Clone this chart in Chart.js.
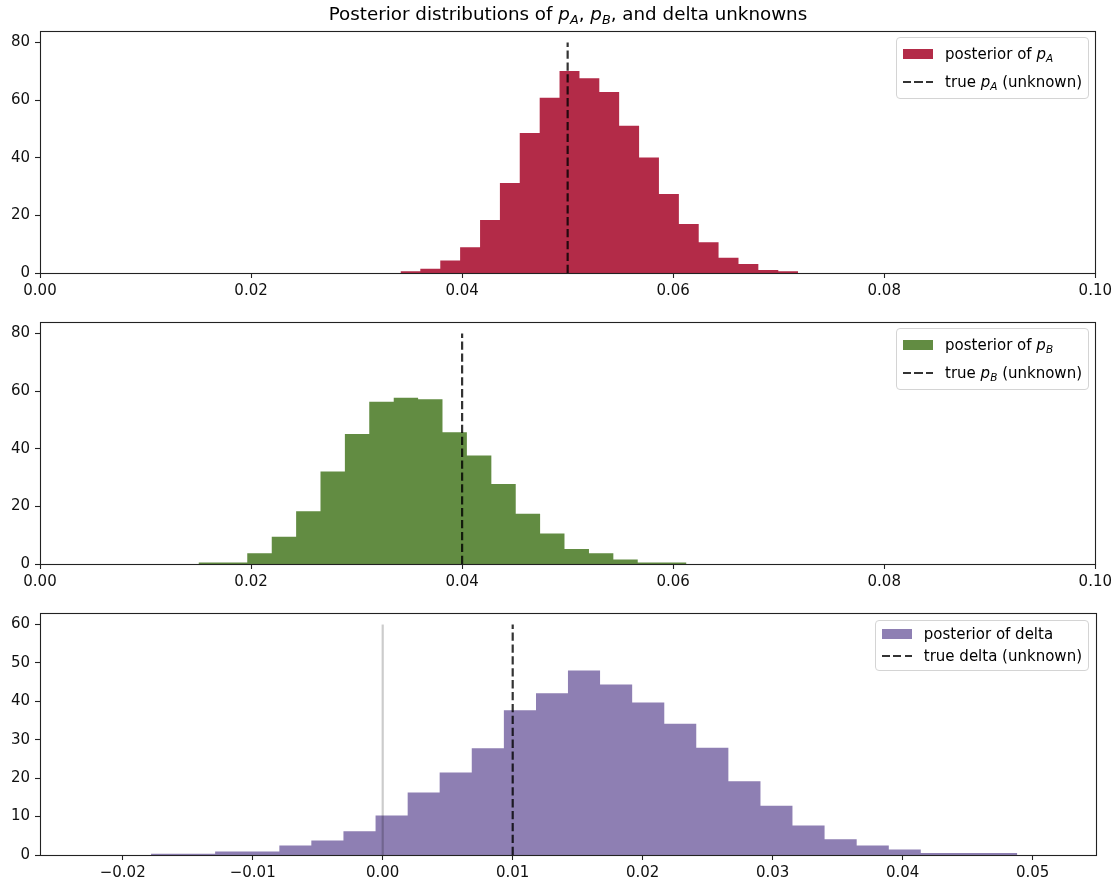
<!DOCTYPE html>
<html><head><meta charset="utf-8">
<script src="https://cdn.jsdelivr.net/npm/chart.js@4.4.0/dist/chart.umd.min.js"></script>
<style>
html,body{margin:0;padding:0;background:#fff;}
#wrap{position:relative;width:1116px;height:884px;overflow:hidden;font-family:"DejaVu Sans",sans-serif;color:#000;}
canvas{position:absolute;left:0;}
.title{position:absolute;left:40px;width:1056px;text-align:center;font-size:18.3px;line-height:22px;top:3px;white-space:nowrap;}
.legend{position:absolute;right:27px;background:rgba(255,255,255,0.8);border:1px solid #d4d4d4;border-radius:4px;padding:6px 6px 6px 6px;font-size:15px;}
.row{display:flex;align-items:center;white-space:nowrap;}
.patch{width:30px;height:10px;margin-right:12px;flex:none;}
.dash{width:30px;height:2px;margin-right:12px;flex:none;background:repeating-linear-gradient(to right, rgba(0,0,0,0.8) 0 8px, transparent 8px 11.5px);}
i{font-style:oblique;}
sub{font-size:70%;vertical-align:-0.3em;line-height:0;}
</style>
</head><body>
<div id="wrap">
  <canvas id="c1" width="1116" height="300" style="top:0px"></canvas>
  <canvas id="c2" width="1116" height="292" style="top:300px"></canvas>
  <canvas id="c3" width="1116" height="292" style="top:592px"></canvas>
  <div class="title">Posterior distributions of <i>p</i><sub><i>A</i></sub>, <i>p</i><sub><i>B</i></sub>, and delta unknowns</div>
  <div class="legend" style="top:37px">
    <div class="row" style="height:20px"><span class="patch" style="background:#B32B48"></span><span>posterior of <i>p</i><sub><i>A</i></sub></span></div>
    <div class="row" style="height:20px;margin-top:7.5px"><span class="dash"></span><span>true <i>p</i><sub><i>A</i></sub> (unknown)</span></div>
  </div>
  <div class="legend" style="top:328px">
    <div class="row" style="height:20px"><span class="patch" style="background:#628C42"></span><span>posterior of <i>p</i><sub><i>B</i></sub></span></div>
    <div class="row" style="height:20px;margin-top:7.5px"><span class="dash"></span><span>true <i>p</i><sub><i>B</i></sub> (unknown)</span></div>
  </div>
  <div class="legend" style="top:620px">
    <div class="row" style="height:14.5px"><span class="patch" style="background:#8E7FB3"></span><span>posterior of delta</span></div>
    <div class="row" style="height:14.5px;margin-top:7.5px"><span class="dash"></span><span>true delta (unknown)</span></div>
  </div>
</div>
<script>
// ---------- data ----------
const pA_edges = [0.03416, 0.03604, 0.03793, 0.03981, 0.04170, 0.04358, 0.04546, 0.04735, 0.04923, 0.05112,
                  0.05300, 0.05488, 0.05677, 0.05865, 0.06054, 0.06242, 0.06430, 0.06619, 0.06807, 0.06996, 0.07184];
const pA_density = [0.6, 1.5, 4.3, 8.9, 18.4, 31.2, 48.6, 60.8, 70.1, 67.6,
                    62.8, 51.1, 40.1, 27.4, 17.0, 10.7, 5.3, 3.1, 1.0, 0.6];

const pB_edges = [0.01502, 0.01733, 0.01964, 0.02196, 0.02427, 0.02658, 0.02889, 0.03120, 0.03352, 0.03583,
                  0.03814, 0.04045, 0.04277, 0.04508, 0.04739, 0.04970, 0.05202, 0.05433, 0.05664, 0.05895, 0.06126];
const pB_density = [0.5, 0.5, 3.7, 9.5, 18.3, 32.1, 45.1, 56.3, 57.7, 57.2,
                    45.7, 37.7, 27.8, 17.4, 10.6, 5.2, 3.7, 1.6, 0.5, 0.5];

const delta_edges = [-0.02276, -0.02029, -0.01782, -0.01536, -0.01289, -0.01042, -0.00795, -0.00549, -0.00302, -0.00055,
                     0.00192, 0.00438, 0.00685, 0.00932, 0.01179, 0.01425, 0.01672, 0.01919, 0.02166, 0.02412,
                     0.02659, 0.02906, 0.03152, 0.03399, 0.03646, 0.03893, 0.04139, 0.04386, 0.04633, 0.04880, 0.05126];
const delta_density = [0.0, 0.0, 0.35, 0.35, 0.9, 0.9, 2.5, 3.8, 6.2, 10.3,
                       16.3, 21.5, 27.8, 37.7, 42.1, 48.0, 44.4, 39.7, 34.2, 27.9,
                       19.2, 12.8, 7.7, 4.1, 2.5, 1.4, 0.5, 0.5, 0.5, 0.0];

const true_pA = 0.05, true_pB = 0.04, true_delta = 0.01;
const vlineTopAB = 80, vlineTopDelta = 60;

const xTicksAB = [0.00, 0.02, 0.04, 0.06, 0.08, 0.10];
const xTicksDelta = [-0.02, -0.01, 0.00, 0.01, 0.02, 0.03, 0.04, 0.05];
const yTicksAB = [0, 20, 40, 60, 80];
const yTicksDelta = [0, 10, 20, 30, 40, 50, 60];

// ---------- helpers ----------
function stepPoints(edges, dens) {
  const pts = [];
  for (let i = 0; i < dens.length; i++) {
    pts.push({x: edges[i], y: dens[i]});
    pts.push({x: edges[i + 1], y: dens[i]});
  }
  return pts;
}
function vline(x, top) { return [{x: x, y: 0}, {x: x, y: top}]; }
function fmtTick(v) {
  const r = Math.round(v * 100) / 100;
  if (r < 0) return '\u2212' + Math.abs(r).toFixed(2);
  return Math.abs(r).toFixed(2);
}

const framePlugin = {
  id: 'frame',
  afterDatasetsDraw(chart) {
    const {ctx, chartArea: a} = chart;
    ctx.save();
    ctx.strokeStyle = '#222';
    ctx.lineWidth = 1.1;
    ctx.strokeRect(Math.round(a.left) + 0.5, Math.round(a.top) + 0.5,
                   Math.round(a.right) - Math.round(a.left), Math.round(a.bottom) - Math.round(a.top));
    ctx.restore();
  }
};

Chart.defaults.font.family = '"DejaVu Sans", sans-serif';
Chart.defaults.font.size = 15;
Chart.defaults.color = '#111';

function makeChart(id, cfg) {
  const datasets = [
    {data: vline(cfg.truth, cfg.vtop), borderColor: 'rgba(0,0,0,0.8)', borderWidth: 2.2,
     borderDash: [8.3, 3.6], pointRadius: 0, fill: false, order: 1},
  ];
  if (cfg.zeroLine) {
    datasets.push({data: vline(0, cfg.vtop), borderColor: 'rgba(0,0,0,0.2)', borderWidth: 2.2,
                   pointRadius: 0, fill: false, order: 2});
  }
  datasets.push({data: stepPoints(cfg.edges, cfg.dens), borderColor: 'rgba(0,0,0,0)', backgroundColor: cfg.color,
                 borderWidth: 0.5, pointRadius: 0, fill: 'origin', tension: 0, order: 3});
  return new Chart(document.getElementById(id), {
    type: 'line',
    data: {datasets: datasets},
    options: {
      responsive: false, animation: false, devicePixelRatio: 1,
      layout: {padding: {top: cfg.padTop, right: 20, left: 0, bottom: 0}},
      plugins: {legend: {display: false}, tooltip: {enabled: false}, title: {display: false}},
      scales: {
        x: {
          type: 'linear', min: cfg.xmin, max: cfg.xmax,
          grid: {display: true, drawOnChartArea: false, drawTicks: true, tickLength: 5, tickColor: '#222', tickWidth: 1.1},
          border: {display: false},
          ticks: {padding: 4, callback: v => fmtTick(v), maxRotation: 0, autoSkip: false},
          afterBuildTicks: s => { s.ticks = cfg.xticks.map(v => ({value: v})); },
          afterFit: s => { s.height = cfg.xh; }
        },
        y: {
          type: 'linear', min: 0, max: cfg.ymax,
          grid: {display: true, drawOnChartArea: false, drawTicks: true, tickLength: 5, tickColor: '#222', tickWidth: 1.1},
          border: {display: false},
          ticks: {padding: 5, callback: v => String(v), autoSkip: false},
          afterBuildTicks: s => { s.ticks = cfg.yticks.map(v => ({value: v})); },
          afterFit: s => { s.width = 40; }
        }
      }
    },
    plugins: [framePlugin]
  });
}

makeChart('c1', {edges: pA_edges, dens: pA_density, color: '#B32B48', truth: true_pA, vtop: vlineTopAB,
  xmin: 0, xmax: 0.10, ymax: 84, xticks: xTicksAB, yticks: yTicksAB, padTop: 31, xh: 27});
makeChart('c2', {edges: pB_edges, dens: pB_density, color: '#628C42', truth: true_pB, vtop: vlineTopAB,
  xmin: 0, xmax: 0.10, ymax: 84, xticks: xTicksAB, yticks: yTicksAB, padTop: 22, xh: 28});
makeChart('c3', {edges: delta_edges, dens: delta_density, color: '#8E7FB3', truth: true_delta, vtop: vlineTopDelta,
  zeroLine: true, xmin: -0.026362, xmax: 0.054869, ymax: 63, xticks: xTicksDelta, yticks: yTicksDelta, padTop: 21, xh: 29});
</script>
</body></html>
